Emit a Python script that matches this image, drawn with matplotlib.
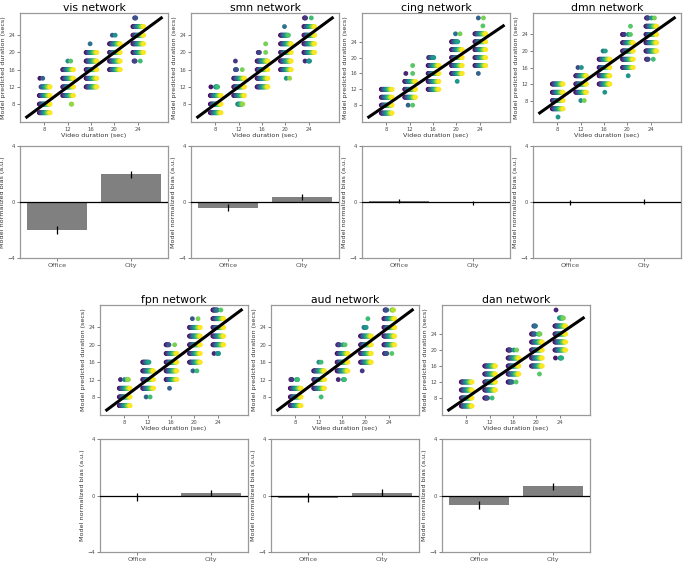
import numpy as np
import matplotlib
matplotlib.use("Agg")
import matplotlib.pyplot as plt

# ---------------- data ----------------
networks = ["vis", "smn", "cing", "dmn", "fpn", "aud", "dan"]
durations = [8, 12, 16, 20, 24]
tick_vals = [8, 12, 16, 20, 24]
identity_line = [5, 28]
n_subjects = 20

# rows: (video duration, predicted duration, first subject fraction, last subject fraction)
vis_rows = [
    (8, 6, 0, 1), (8, 8, 0, 1), (8, 10, 0, 1), (8, 12, 0.15, 1), (8, 14, 0.05, 0.05), (8, 14, 0.3, 0.3),
    (12, 8, 0.75, 0.85), (12, 10, 0, 1), (12, 12, 0, 1), (12, 14, 0, 1), (12, 16, 0, 1), (12, 18, 0.45, 0.45), (12, 18, 0.75, 0.75),
    (16, 12, 0, 1), (16, 14, 0, 1), (16, 16, 0, 1), (16, 18, 0, 1), (16, 20, 0, 1), (16, 22, 0.35, 0.35),
    (20, 16, 0, 1), (20, 18, 0, 1), (20, 20, 0, 1), (20, 22, 0, 1), (20, 24, 0.25, 0.3), (20, 24, 0.55, 0.55),
    (24, 18, 0.1, 0.25), (24, 18, 0.7, 0.7), (24, 20, 0, 1), (24, 22, 0, 1), (24, 24, 0, 1), (24, 26, 0, 1), (24, 28, 0.15, 0.3),
]
smn_rows = [
    (8, 6, 0, 1), (8, 8, 0, 1), (8, 10, 0, 1), (8, 12, 0.05, 0.05), (8, 12, 0.45, 0.7),
    (12, 8, 0.35, 0.85), (12, 10, 0, 1), (12, 12, 0, 1), (12, 14, 0, 1), (12, 16, 0.15, 0.3), (12, 16, 0.8, 0.8), (12, 18, 0.15, 0.15),
    (16, 12, 0, 1), (16, 14, 0, 1), (16, 16, 0, 1), (16, 18, 0, 1), (16, 20, 0.1, 0.25), (16, 20, 0.8, 0.8), (16, 22, 0.8, 0.8),
    (20, 14, 0.5, 0.5), (20, 14, 0.85, 0.85), (20, 16, 0, 1), (20, 18, 0, 1), (20, 20, 0, 1), (20, 22, 0, 1), (20, 24, 0, 0.75), (20, 26, 0.35, 0.35),
    (24, 18, 0.1, 0.1), (24, 18, 0.4, 0.55), (24, 20, 0, 1), (24, 22, 0, 1), (24, 24, 0, 1), (24, 26, 0, 1), (24, 28, 0.05, 0.2), (24, 28, 0.7, 0.7),
]
cing_rows = [
    (8, 6, 0, 1), (8, 8, 0, 1), (8, 10, 0, 1), (8, 12, 0, 1),
    (12, 8, 0.3, 0.3), (12, 8, 0.75, 0.75), (12, 10, 0, 1), (12, 12, 0, 1), (12, 14, 0, 1), (12, 16, 0.1, 0.1), (12, 16, 0.75, 0.75), (12, 18, 0.75, 0.75),
    (16, 12, 0, 1), (16, 14, 0, 1), (16, 16, 0, 1), (16, 18, 0, 1), (16, 20, 0.05, 0.55),
    (20, 14, 0.5, 0.5), (20, 16, 0, 1), (20, 18, 0, 1), (20, 20, 0, 1), (20, 22, 0, 1), (20, 24, 0, 0.6), (20, 26, 0.35, 0.35), (20, 26, 0.8, 0.8),
    (24, 16, 0.3, 0.3), (24, 18, 0, 1), (24, 20, 0, 1), (24, 22, 0, 1), (24, 24, 0, 1), (24, 26, 0, 1), (24, 28, 0.75, 0.75), (24, 30, 0.3, 0.3), (24, 30, 0.8, 0.8),
]
dmn_rows = [
    (8, 4, 0.5, 0.5), (8, 6, 0, 1), (8, 8, 0, 1), (8, 10, 0, 1), (8, 12, 0, 1),
    (12, 8, 0.45, 0.45), (12, 8, 0.8, 0.8), (12, 10, 0, 1), (12, 12, 0, 1), (12, 14, 0, 1), (12, 16, 0.2, 0.2), (12, 16, 0.5, 0.5),
    (16, 10, 0.5, 0.5), (16, 12, 0, 1), (16, 14, 0, 1), (16, 16, 0, 1), (16, 18, 0, 1), (16, 20, 0.35, 0.35), (16, 20, 0.6, 0.6),
    (20, 14, 0.55, 0.55), (20, 16, 0, 1), (20, 18, 0, 1), (20, 20, 0, 1), (20, 22, 0, 1), (20, 24, 0, 0.2), (20, 24, 0.5, 0.5), (20, 24, 0.75, 0.75), (20, 26, 0.75, 0.75),
    (24, 18, 0.05, 0.25), (24, 18, 0.7, 0.7), (24, 20, 0, 1), (24, 22, 0, 1), (24, 24, 0, 1), (24, 26, 0, 1), (24, 28, 0.05, 0.25), (24, 28, 0.55, 0.55), (24, 28, 0.8, 0.8),
]
fpn_rows = [
    (8, 6, 0, 1), (8, 8, 0, 1), (8, 10, 0, 1), (8, 12, 0.1, 0.1), (8, 12, 0.45, 0.45), (8, 12, 0.7, 0.85),
    (12, 8, 0.3, 0.3), (12, 8, 0.7, 0.7), (12, 10, 0, 1), (12, 12, 0, 1), (12, 14, 0, 1), (12, 16, 0, 0.6),
    (16, 10, 0.3, 0.3), (16, 12, 0, 1), (16, 14, 0, 1), (16, 16, 0, 1), (16, 18, 0, 1), (16, 20, 0, 0.3), (16, 20, 0.8, 0.8),
    (20, 14, 0.3, 0.3), (20, 14, 0.7, 0.7), (20, 16, 0, 1), (20, 18, 0, 1), (20, 20, 0, 1), (20, 22, 0, 1), (20, 24, 0, 1), (20, 26, 0.25, 0.25), (20, 26, 0.8, 0.8),
    (24, 18, 0.1, 0.1), (24, 18, 0.4, 0.55), (24, 20, 0, 1), (24, 22, 0, 1), (24, 24, 0, 1), (24, 26, 0, 1), (24, 28, 0, 0.45), (24, 28, 0.75, 0.75),
]
aud_rows = [
    (8, 6, 0, 1), (8, 8, 0, 1), (8, 10, 0, 1), (8, 12, 0.05, 0.2), (8, 12, 0.55, 0.7),
    (12, 8, 0.7, 0.7), (12, 10, 0, 1), (12, 12, 0, 1), (12, 14, 0, 1), (12, 16, 0.45, 0.45), (12, 16, 0.7, 0.7),
    (16, 12, 0.1, 0.1), (16, 12, 0.55, 0.7), (16, 14, 0, 1), (16, 16, 0, 1), (16, 18, 0, 1), (16, 20, 0.05, 0.25), (16, 20, 0.55, 0.55), (16, 20, 0.75, 0.75),
    (20, 14, 0.15, 0.15), (20, 16, 0, 1), (20, 18, 0, 1), (20, 20, 0, 1), (20, 22, 0, 1), (20, 24, 0.3, 0.55), (20, 26, 0.7, 0.7),
    (24, 18, 0.05, 0.3), (24, 18, 0.75, 0.75), (24, 20, 0, 1), (24, 22, 0, 1), (24, 24, 0, 1), (24, 26, 0, 1), (24, 28, 0.1, 0.3), (24, 28, 0.7, 0.9),
]
dan_rows = [
    (8, 6, 0, 1), (8, 8, 0, 1), (8, 10, 0, 1), (8, 12, 0, 1),
    (12, 8, 0, 0.3), (12, 8, 0.7, 0.7), (12, 10, 0, 1), (12, 12, 0, 1), (12, 14, 0, 1), (12, 16, 0, 1),
    (16, 12, 0, 0.4), (16, 12, 0.75, 0.75), (16, 14, 0, 1), (16, 16, 0, 1), (16, 18, 0, 1), (16, 20, 0, 0.25), (16, 20, 0.5, 0.5), (16, 20, 0.8, 0.8),
    (20, 14, 0.75, 0.75), (20, 16, 0, 1), (20, 18, 0, 1), (20, 20, 0, 1), (20, 22, 0, 1), (20, 24, 0, 0.35), (20, 24, 0.6, 0.8), (20, 26, 0.2, 0.4),
    (24, 18, 0.05, 0.05), (24, 18, 0.45, 0.65), (24, 20, 0, 1), (24, 22, 0, 1), (24, 24, 0, 1), (24, 26, 0, 1), (24, 28, 0.4, 0.8), (24, 30, 0.1, 0.1),
]
rows_by_net = [vis_rows, smn_rows, cing_rows, dmn_rows, fpn_rows, aud_rows, dan_rows]

conditions = ["Office", "City"]
office_bias = [-2.0, -0.4, 0.05, -0.03, -0.12, -0.15, -0.65]
city_bias = [1.98, 0.38, -0.05, 0.03, 0.17, 0.19, 0.66]
office_err = [0.3, 0.25, 0.15, 0.2, 0.3, 0.3, 0.28]
city_err = [0.27, 0.22, 0.15, 0.2, 0.24, 0.24, 0.25]

# ---------------- layout (pixels) ----------------
W, H = 685, 562
top_lefts = [20, 191, 362, 533]
bot_lefts = [100, 271, 442]
ax_w = 148
top_sc, top_bar = (13, 122), (146, 258)
bot_sc, bot_bar = (305, 415), (439, 552)

def rect(left, tb):
    t, b = tb
    return [left / W, 1 - b / H, ax_w / W, (b - t) / H]

fig = plt.figure(figsize=(W / 100, H / 100), dpi=100)
spine_col = "0.6"
offsets = np.linspace(-0.85, 1.0, n_subjects)
fracs = np.linspace(0, 1, n_subjects)
cmap = plt.get_cmap("viridis")

def style(ax):
    for s in ax.spines.values():
        s.set_color(spine_col)
        s.set_linewidth(0.9)
    ax.tick_params(colors="0.3", width=0.5, length=2, pad=1.5)

def scatter_panel(ax, name, rows):
    xs, ys, cs = [], [], []
    for d, p, f0, f1 in rows:
        if f0 == f1:
            ks = [int(round(f0 * (n_subjects - 1)))]
        else:
            ks = [k for k in range(n_subjects) if f0 - 1e-9 <= fracs[k] <= f1 + 1e-9]
        for k in ks:
            xs.append(d + offsets[k]); ys.append(p); cs.append(fracs[k])
    order = np.argsort(cs, kind="stable")
    xs, ys, cs = np.array(xs)[order], np.array(ys)[order], np.array(cs)[order]
    ax.scatter(xs, ys, c=cs, cmap=cmap, vmin=0, vmax=1, s=12, linewidths=0, zorder=2)
    ax.plot(identity_line, identity_line, color="black", lw=2.2, zorder=3)
    ax.set_xticks(tick_vals)
    ax.set_yticks(tick_vals)
    ax.tick_params(labelsize=3.8)
    ax.set_xlabel("Video duration (sec)", fontsize=4.6, labelpad=1, color="0.2")
    ax.set_ylabel("Model predicted duration (secs)", fontsize=4.6, labelpad=2, color="0.2")
    ax.set_title(f"{name} network", fontsize=7.8, pad=0)
    style(ax)

def bar_panel(ax, i):
    vals = [office_bias[i], city_bias[i]]
    errs = [office_err[i], city_err[i]]
    x = np.arange(len(conditions))
    ax.bar(x, vals, width=0.8, color="#808080", zorder=2)
    ax.errorbar(x, vals, yerr=errs, fmt="none", ecolor="black", elinewidth=0.9, capsize=0, zorder=3)
    ax.axhline(0, color="black", lw=0.9, zorder=4)
    ax.set_xlim(-0.5, 1.5)
    ax.set_ylim(-4, 4)
    ax.set_yticks([-4, 0, 4])
    ax.set_xticks(x)
    ax.set_xticklabels(conditions)
    ax.tick_params(axis="x", labelsize=4.6)
    ax.tick_params(axis="y", labelsize=3.8)
    ax.set_ylabel("Model normalized bias (a.u.)", fontsize=4.6, labelpad=2, color="0.2")
    style(ax)

positions = [(l, top_sc, top_bar) for l in top_lefts] + [(l, bot_sc, bot_bar) for l in bot_lefts]
for i, (name, rows, (left, sc_tb, bar_tb)) in enumerate(zip(networks, rows_by_net, positions)):
    ax1 = fig.add_axes(rect(left, sc_tb))
    scatter_panel(ax1, name, rows)
    ax2 = fig.add_axes(rect(left, bar_tb))
    bar_panel(ax2, i)

fig.savefig("out.png", dpi=100)
